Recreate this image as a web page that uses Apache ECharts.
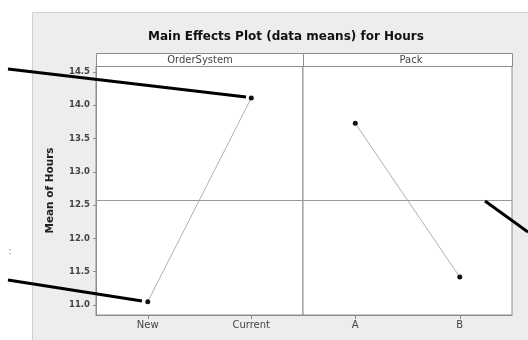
<!DOCTYPE html>
<html><head><meta charset="utf-8">
<script src="https://cdn.jsdelivr.net/npm/echarts@6/dist/echarts.min.js"></script>
<style>html,body{margin:0;padding:0;background:#fff}#c{width:528px;height:340px}</style>
</head><body><div id="c"></div>
<script>
const titleText = 'Main Effects Plot (data means) for Hours';
const yTitle = 'Mean of Hours';
const factorNames = ['OrderSystem', 'Pack'];
const orderCats = ['New', 'Current'];
const orderMeans = [11.05, 14.11];
const packCats = ['A', 'B'];
const packMeans = [13.73, 11.42];
const grandMean = 12.58;
const yTicks = [11.0, 11.5, 12.0, 12.5, 13.0, 13.5, 14.0, 14.5];
const yMin = 10.85, yMax = 14.59;

const chart = echarts.init(document.getElementById('c'), null, {renderer: 'canvas'});
const axisCol = '#8c8c8c';
const font = 'DejaVu Sans, sans-serif';

function xAx(i, cats) {
  return {
    type: 'category', gridIndex: i, data: cats, boundaryGap: true,
    axisLine: {show: true, lineStyle: {color: axisCol}},
    axisTick: {show: true, alignWithLabel: true, length: 4, lineStyle: {color: axisCol}},
    axisLabel: {color: '#444', fontSize: 10, fontFamily: font, margin: 5},
    splitLine: {show: false}
  };
}
function yAx(i, show) {
  return {
    type: 'value', gridIndex: i, min: yMin, max: yMax,
    name: show ? yTitle : '', nameLocation: 'middle', nameGap: 40, nameRotate: 90,
    nameTextStyle: {color: '#222', fontSize: 10.5, fontWeight: 'bold', fontFamily: font},
    axisLine: {show: show, lineStyle: {color: axisCol}},
    axisTick: {show: show, length: 3, customValues: yTicks, lineStyle: {color: axisCol}},
    axisLabel: {show: show, customValues: yTicks, color: '#444', fontSize: 8.5, fontWeight: 'bold', fontFamily: font, margin: 6,
      formatter: v => v.toFixed(1)},
    splitLine: {show: false}
  };
}
function ser(i, vals) {
  return {
    type: 'line', xAxisIndex: i, yAxisIndex: i, data: vals,
    symbol: 'circle', symbolSize: 5,
    itemStyle: {color: '#111'},
    lineStyle: {color: '#b0b0b0', width: 1},
    silent: true, animation: false,
    markLine: {silent: true, symbol: 'none', label: {show: false},
      lineStyle: {color: '#9a9a9a', width: 1, type: 'solid'},
      data: [{yAxis: grandMean}]}
  };
}

const ann = [
  [[8, 69], [246, 97]],
  [[8, 280], [142, 301]],
  [[485, 201], [528, 232]]
];

chart.setOption({
  backgroundColor: '#ededed',
  animation: false,
  title: {text: titleText, left: 143, top: 26,
    textStyle: {fontSize: 12, fontWeight: 'bold', color: '#111', fontFamily: font}},
  grid: [
    {left: 96, top: 66, width: 207, height: 249, show: true, backgroundColor: '#fff', borderColor: axisCol, borderWidth: 1},
    {left: 303, top: 66, width: 209, height: 249, show: true, backgroundColor: '#fff', borderColor: axisCol, borderWidth: 1}
  ],
  xAxis: [xAx(0, orderCats), xAx(1, packCats)],
  yAxis: [yAx(0, true), yAx(1, false)],
  series: [ser(0, orderMeans), ser(1, packMeans)],
  graphic: [
    {type: 'rect', shape: {x: 0, y: 0, width: 32, height: 340}, style: {fill: '#fff'}, z: -1},
    {type: 'rect', shape: {x: 0, y: 0, width: 528, height: 12}, style: {fill: '#fff'}, z: -1},
    {type: 'line', shape: {x1: 32, y1: 12.5, x2: 528, y2: 12.5}, style: {stroke: '#d0d0d0', lineWidth: 1}, z: -1},
    {type: 'line', shape: {x1: 32.5, y1: 12, x2: 32.5, y2: 340}, style: {stroke: '#d0d0d0', lineWidth: 1}, z: -1},
    {type: 'rect', shape: {x: 96.5, y: 53.5, width: 207, height: 13}, style: {fill: '#fff', stroke: axisCol, lineWidth: 1}},
    {type: 'rect', shape: {x: 303.5, y: 53.5, width: 209, height: 13}, style: {fill: '#fff', stroke: axisCol, lineWidth: 1}},
    {type: 'text', x: 200, y: 60.5, style: {text: factorNames[0], fill: '#444', fontSize: 10, fontFamily: font, align: 'center', verticalAlign: 'middle'}},
    {type: 'text', x: 411, y: 60.5, style: {text: factorNames[1], fill: '#444', fontSize: 10, fontFamily: font, align: 'center', verticalAlign: 'middle'}},
    {type: 'text', x: 10, y: 252, style: {text: ':', fill: '#777', fontSize: 9, fontFamily: font, align: 'center', verticalAlign: 'middle'}},
  ].concat(ann.map(a => ({type: 'line', z: 100,
    shape: {x1: a[0][0], y1: a[0][1], x2: a[1][0], y2: a[1][1]},
    style: {stroke: '#000', lineWidth: 3}})))
});
</script></body></html>
